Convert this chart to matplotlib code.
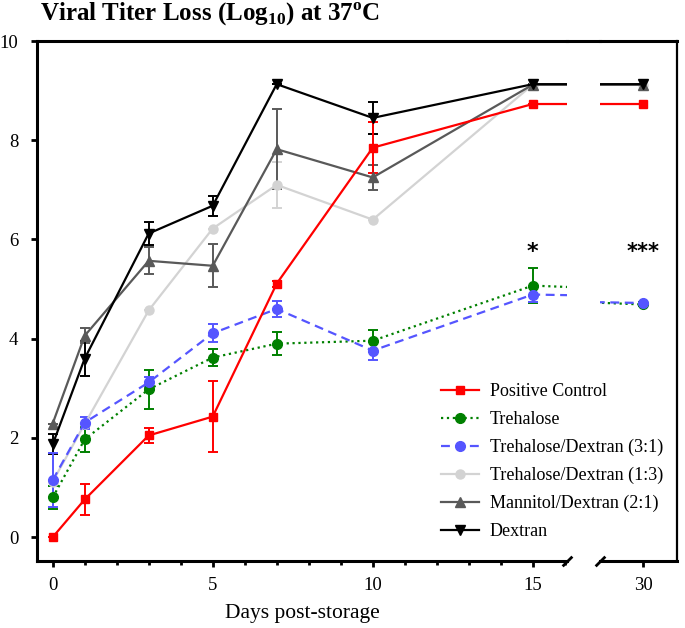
import matplotlib
matplotlib.use('Agg')
import matplotlib.pyplot as plt
from matplotlib.lines import Line2D

plt.rcParams['font.family'] = 'Liberation Serif'
plt.rcParams['mathtext.fontset'] = 'custom'
plt.rcParams['mathtext.rm'] = 'Liberation Serif'
plt.rcParams['mathtext.bf'] = 'Liberation Serif:bold'

days = [0, 1, 3, 5, 7, 10, 15, 30]

pos_ctrl = [0.0, 0.76, 2.05, 2.43, 5.11, 7.85, 8.73, 8.73]
pos_ctrl_err = [0.0, 0.31, 0.16, 0.72, 0.06, 0.52, 0.0, 0.0]

trehalose = [0.80, 1.97, 2.98, 3.62, 3.90, 3.96, 5.07, 4.69]
trehalose_err = [0.23, 0.26, 0.39, 0.18, 0.23, 0.22, 0.36, 0.04]

td31 = [1.15, 2.31, 3.12, 4.11, 4.60, 3.76, 4.89, 4.72]
td31_err = [0.55, 0.12, 0.10, 0.18, 0.16, 0.18, 0.15, 0.0]

td13 = [1.12, 2.28, 4.57, 6.22, 7.10, 6.40, 9.12, 9.12]
td13_err = [0.0, 0.0, 0.0, 0.0, 0.46, 0.0, 0.0, 0.0]

md21 = [2.29, 4.06, 5.57, 5.47, 7.82, 7.25, 9.12, 9.12]
md21_err = [0.0, 0.15, 0.27, 0.43, 0.80, 0.26, 0.0, 0.0]

dextran = [1.87, 3.60, 6.12, 6.68, 9.13, 8.45, 9.13, 9.13]
dextran_err = [0.20, 0.36, 0.23, 0.20, 0.0, 0.33, 0.0, 0.0]

series = [
    ('Trehalose/Dextran (1:3)', td13, td13_err, '#d3d3d3', '-', 'o', 6.5),
    ('Mannitol/Dextran (2:1)', md21, md21_err, '#595959', '-', '^', 7.5),
    ('Dextran', dextran, dextran_err, 'black', '-', 'v', 7.5),
    ('Trehalose', trehalose, trehalose_err, '#008000', ':', 'o', 7),
    ('Trehalose/Dextran (3:1)', td31, td31_err, '#5555ff', (0, (4, 2.5)), 'o', 7),
    ('Positive Control', pos_ctrl, pos_ctrl_err, '#ff0000', '-', 's', 6),
]
legend_order = ['Positive Control', 'Trehalose', 'Trehalose/Dextran (3:1)',
                'Trehalose/Dextran (1:3)', 'Mannitol/Dextran (2:1)', 'Dextran']

W, H = 685, 628
fig = plt.figure(figsize=(W / 100, H / 100), dpi=100)
top_px, bot_px = 41, 561
axL = fig.add_axes([37 / W, 1 - bot_px / H, (567 - 37) / W, (bot_px - top_px) / H])
axR = fig.add_axes([600 / W, 1 - bot_px / H, (677 - 600) / W, (bot_px - top_px) / H], sharey=axL)

handles = {}
for ax in (axL, axR):
    for name, vals, err, col, ls, mk, ms in series:
        c = ax.errorbar(days, vals, yerr=err, color=col, ls=ls, lw=1.6, marker=mk, ms=ms,
                        ecolor=col, elinewidth=1.4, capsize=3.6, capthick=1.4, label=name)
        handles[name] = c[0]

axL.set_xlim(-0.49, 16.07)
axR.set_xlim(28.66, 31.06)
axL.set_ylim(-0.48, 10)

axL.set_xticks([0, 5, 10, 15])
axL.set_xticks(range(0, 17), minor=True)
axR.set_xticks([30])
axL.set_yticks([0, 2, 4, 6, 8, 10])

for ax in (axL, axR):
    for sp in ax.spines.values():
        sp.set_linewidth(2.2)
    ax.tick_params(axis='both', which='major', direction='out', length=4.5, width=2,
                   labelsize=13.5, pad=7)
    ax.tick_params(axis='x', which='minor', direction='out', length=3, width=2)
axL.tick_params(axis='y', pad=9)
axL.spines['right'].set_visible(False)
axR.spines['left'].set_visible(False)
axR.spines['right'].set_linewidth(1.6)
axR.tick_params(axis='y', left=False, labelleft=False)

# top border across the gap
ytop = 1 - top_px / H
fig.add_artist(Line2D([567 / W, 600 / W], [ytop, ytop], transform=fig.transFigure,
                      color='black', lw=2.2))

# break marks on the x axis
kw = dict(marker=[(-1, -1), (1, 1)], markersize=7, linestyle='none', color='k',
          mec='k', mew=2, clip_on=False)
axL.plot([1], [0], transform=axL.transAxes, **kw)
axR.plot([0], [0], transform=axR.transAxes, **kw)

axL.text(15, 5.75, '*', ha='center', va='center', fontsize=16, fontweight='bold',
         family='DejaVu Sans')
axR.text(30, 5.75, '***', ha='center', va='center', fontsize=15, fontweight='bold',
         family='DejaVu Sans')

axL.set_xlabel('Days post-storage', fontsize=15.5, labelpad=7.5)

fig.text(40 / W, 1 - 21 / H, r'Viral Titer Loss (Log$_{\mathbf{10}}$) at 37$^{\mathbf{o}}$C',
         fontsize=18, fontweight='bold', va='baseline', ha='left')

fig.legend([handles[n] for n in legend_order], legend_order, loc='upper left',
           bbox_to_anchor=(441 / W, 1 - 383 / H), frameon=False, fontsize=13,
           handlelength=2.1, handletextpad=0.6, labelspacing=0.6, borderpad=0,
           borderaxespad=0)

fig.savefig('out.png', dpi=100)
